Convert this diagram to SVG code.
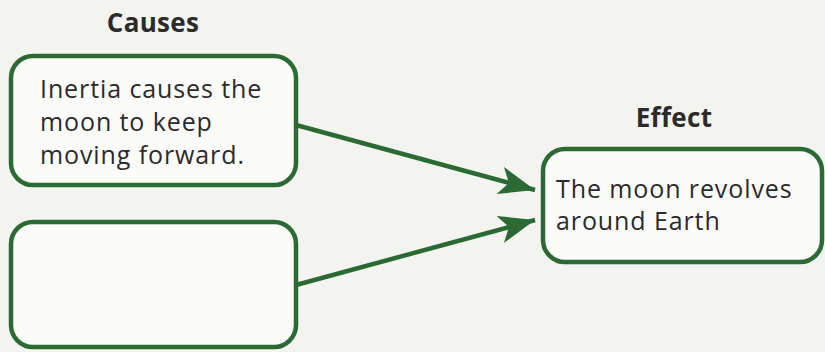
<svg xmlns="http://www.w3.org/2000/svg" width="825" height="352" viewBox="0 0 825 352">
<defs>
<style>
.box{fill:#fbfcfa;stroke:#2b6a33;stroke-width:4.5}
.lbl{font-family:"Open Sans","Noto Sans",sans-serif;font-size:25px;letter-spacing:0.9px;fill:#2c2a2a}
.hd{font-family:"Open Sans","Noto Sans",sans-serif;font-size:26px;font-weight:bold;letter-spacing:0.3px;fill:#2c2a2a}
.con{stroke:#2b6a33;stroke-width:4.5;fill:none}
</style>
<marker id="ah" markerUnits="userSpaceOnUse" markerWidth="40" markerHeight="40" refX="36" refY="14" orient="auto" viewBox="0 0 40 28">
<path d="M0,0 L36,14 L0,28 L9,14 Z" fill="#2b6a33"/>
</marker>
</defs>
<rect width="825" height="352" fill="#f3f4f0"/>
<text class="hd" x="153" y="32" text-anchor="middle">Causes</text>
<text class="hd" x="674" y="127" text-anchor="middle">Effect</text>
<g id="cause1">
<rect class="box" x="11" y="56" width="285" height="129" rx="22"/>
<text class="lbl" x="40" y="98">Inertia causes the</text>
<text class="lbl" x="40" y="131">moon to keep</text>
<text class="lbl" x="40" y="164">moving forward.</text>
</g>
<g id="cause2">
<rect class="box" x="11" y="222" width="285" height="125" rx="22"/>
</g>
<g id="effect">
<rect class="box" x="543" y="149" width="279" height="113" rx="22"/>
<text class="lbl" x="556" y="198">The moon revolves</text>
<text class="lbl" x="556" y="230">around Earth</text>
</g>
<g id="connectors">
<line class="con" x1="296" y1="125" x2="535" y2="190" marker-end="url(#ah)"/>
<line class="con" x1="296" y1="285" x2="535" y2="220" marker-end="url(#ah)"/>
</g>
</svg>
